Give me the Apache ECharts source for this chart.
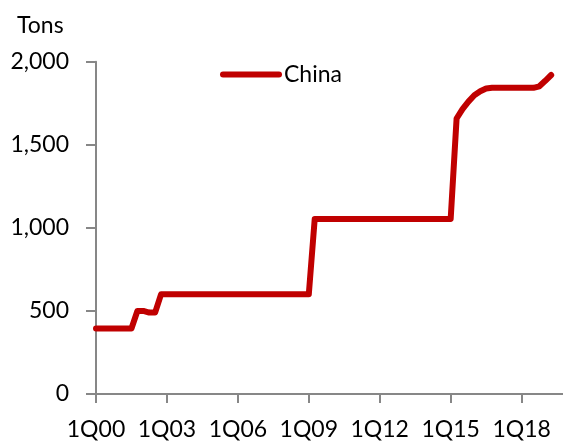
<!DOCTYPE html>
<html>
<head>
<meta charset="utf-8">
<script src="https://cdn.jsdelivr.net/npm/echarts@6/dist/echarts.min.js"></script>
<style>html,body{margin:0;padding:0;background:#fff;}#c{width:563px;height:442px;}</style>
</head>
<body>
<div id="c"></div>
<script>
// Quarterly categories 1Q00 .. 4Q19
var years = ['00','01','02','03','04','05','06','07','08','09','10','11','12','13','14','15','16','17','18','19'];
var quarters = ['1Q','2Q','3Q','4Q'];
var categories = [];
years.forEach(function (y) { quarters.forEach(function (q) { categories.push(q + y); }); });

// China official gold holdings (tons), 1Q00 .. 2Q19
var china = [
  394, 394, 394, 394,            // 2000
  394, 394, 394, 500,            // 2001
  500, 490, 490, 600,            // 2002
  600, 600, 600, 600,            // 2003
  600, 600, 600, 600,            // 2004
  600, 600, 600, 600,            // 2005
  600, 600, 600, 600,            // 2006
  600, 600, 600, 600,            // 2007
  600, 600, 600, 600,            // 2008
  600, 1054, 1054, 1054,         // 2009
  1054, 1054, 1054, 1054,        // 2010
  1054, 1054, 1054, 1054,        // 2011
  1054, 1054, 1054, 1054,        // 2012
  1054, 1054, 1054, 1054,        // 2013
  1054, 1054, 1054, 1054,        // 2014
  1054, 1658, 1715, 1760,        // 2015
  1798, 1822, 1839, 1843,        // 2016
  1843, 1843, 1843, 1843,        // 2017
  1843, 1843, 1843, 1852,        // 2018
  1885, 1920                     // 2019
];

var yTicks = { min: 0, max: 2000, interval: 500 };
var seriesName = 'China';
var unitLabel = 'Tons';

var FONT = 'Lato';
var chart = echarts.init(document.getElementById('c'), null, { renderer: 'canvas' });
chart.setOption({
  animation: false,
  backgroundColor: '#ffffff',
  title: {
    text: unitLabel,
    left: 12, top: 9,
    textStyle: { fontFamily: FONT, fontSize: 23, fontWeight: 'normal', color: '#000' }
  },
  legend: {
    data: [{ name: seriesName }],
    left: 215, top: 58,
    itemWidth: 56, itemHeight: 24,
    itemStyle: { opacity: 0 },
    lineStyle: { width: 6, cap: 'round', color: '#C00000' },
    textStyle: { fontFamily: FONT, fontSize: 23, color: '#000' }
  },
  grid: { left: 96, top: 61.7, width: 471.8, height: 332.3, containLabel: false },
  xAxis: {
    type: 'category',
    data: categories,
    boundaryGap: false,
    axisLine: { lineStyle: { color: '#878787', width: 2 } },
    axisTick: { interval: 11, length: 9, lineStyle: { color: '#878787', width: 2 } },
    axisLabel: { interval: 11, margin: 24, fontFamily: FONT, fontSize: 23, color: '#000' },
    splitLine: { show: false }
  },
  yAxis: {
    type: 'value',
    min: yTicks.min, max: yTicks.max, interval: yTicks.interval,
    axisLine: { show: true, lineStyle: { color: '#878787', width: 2 } },
    axisTick: { show: true, length: 10, lineStyle: { color: '#878787', width: 2 } },
    axisLabel: {
      margin: 27, fontFamily: FONT, fontSize: 23, color: '#000',
      formatter: function (v) { return v.toLocaleString('en-US'); }
    },
    splitLine: { show: false }
  },
  series: [{
    name: seriesName,
    type: 'line',
    data: china,
    symbol: 'none',
    lineStyle: { color: '#C00000', width: 6, cap: 'round', join: 'round' },
    itemStyle: { color: '#C00000' }
  }]
});
</script>
</body>
</html>
